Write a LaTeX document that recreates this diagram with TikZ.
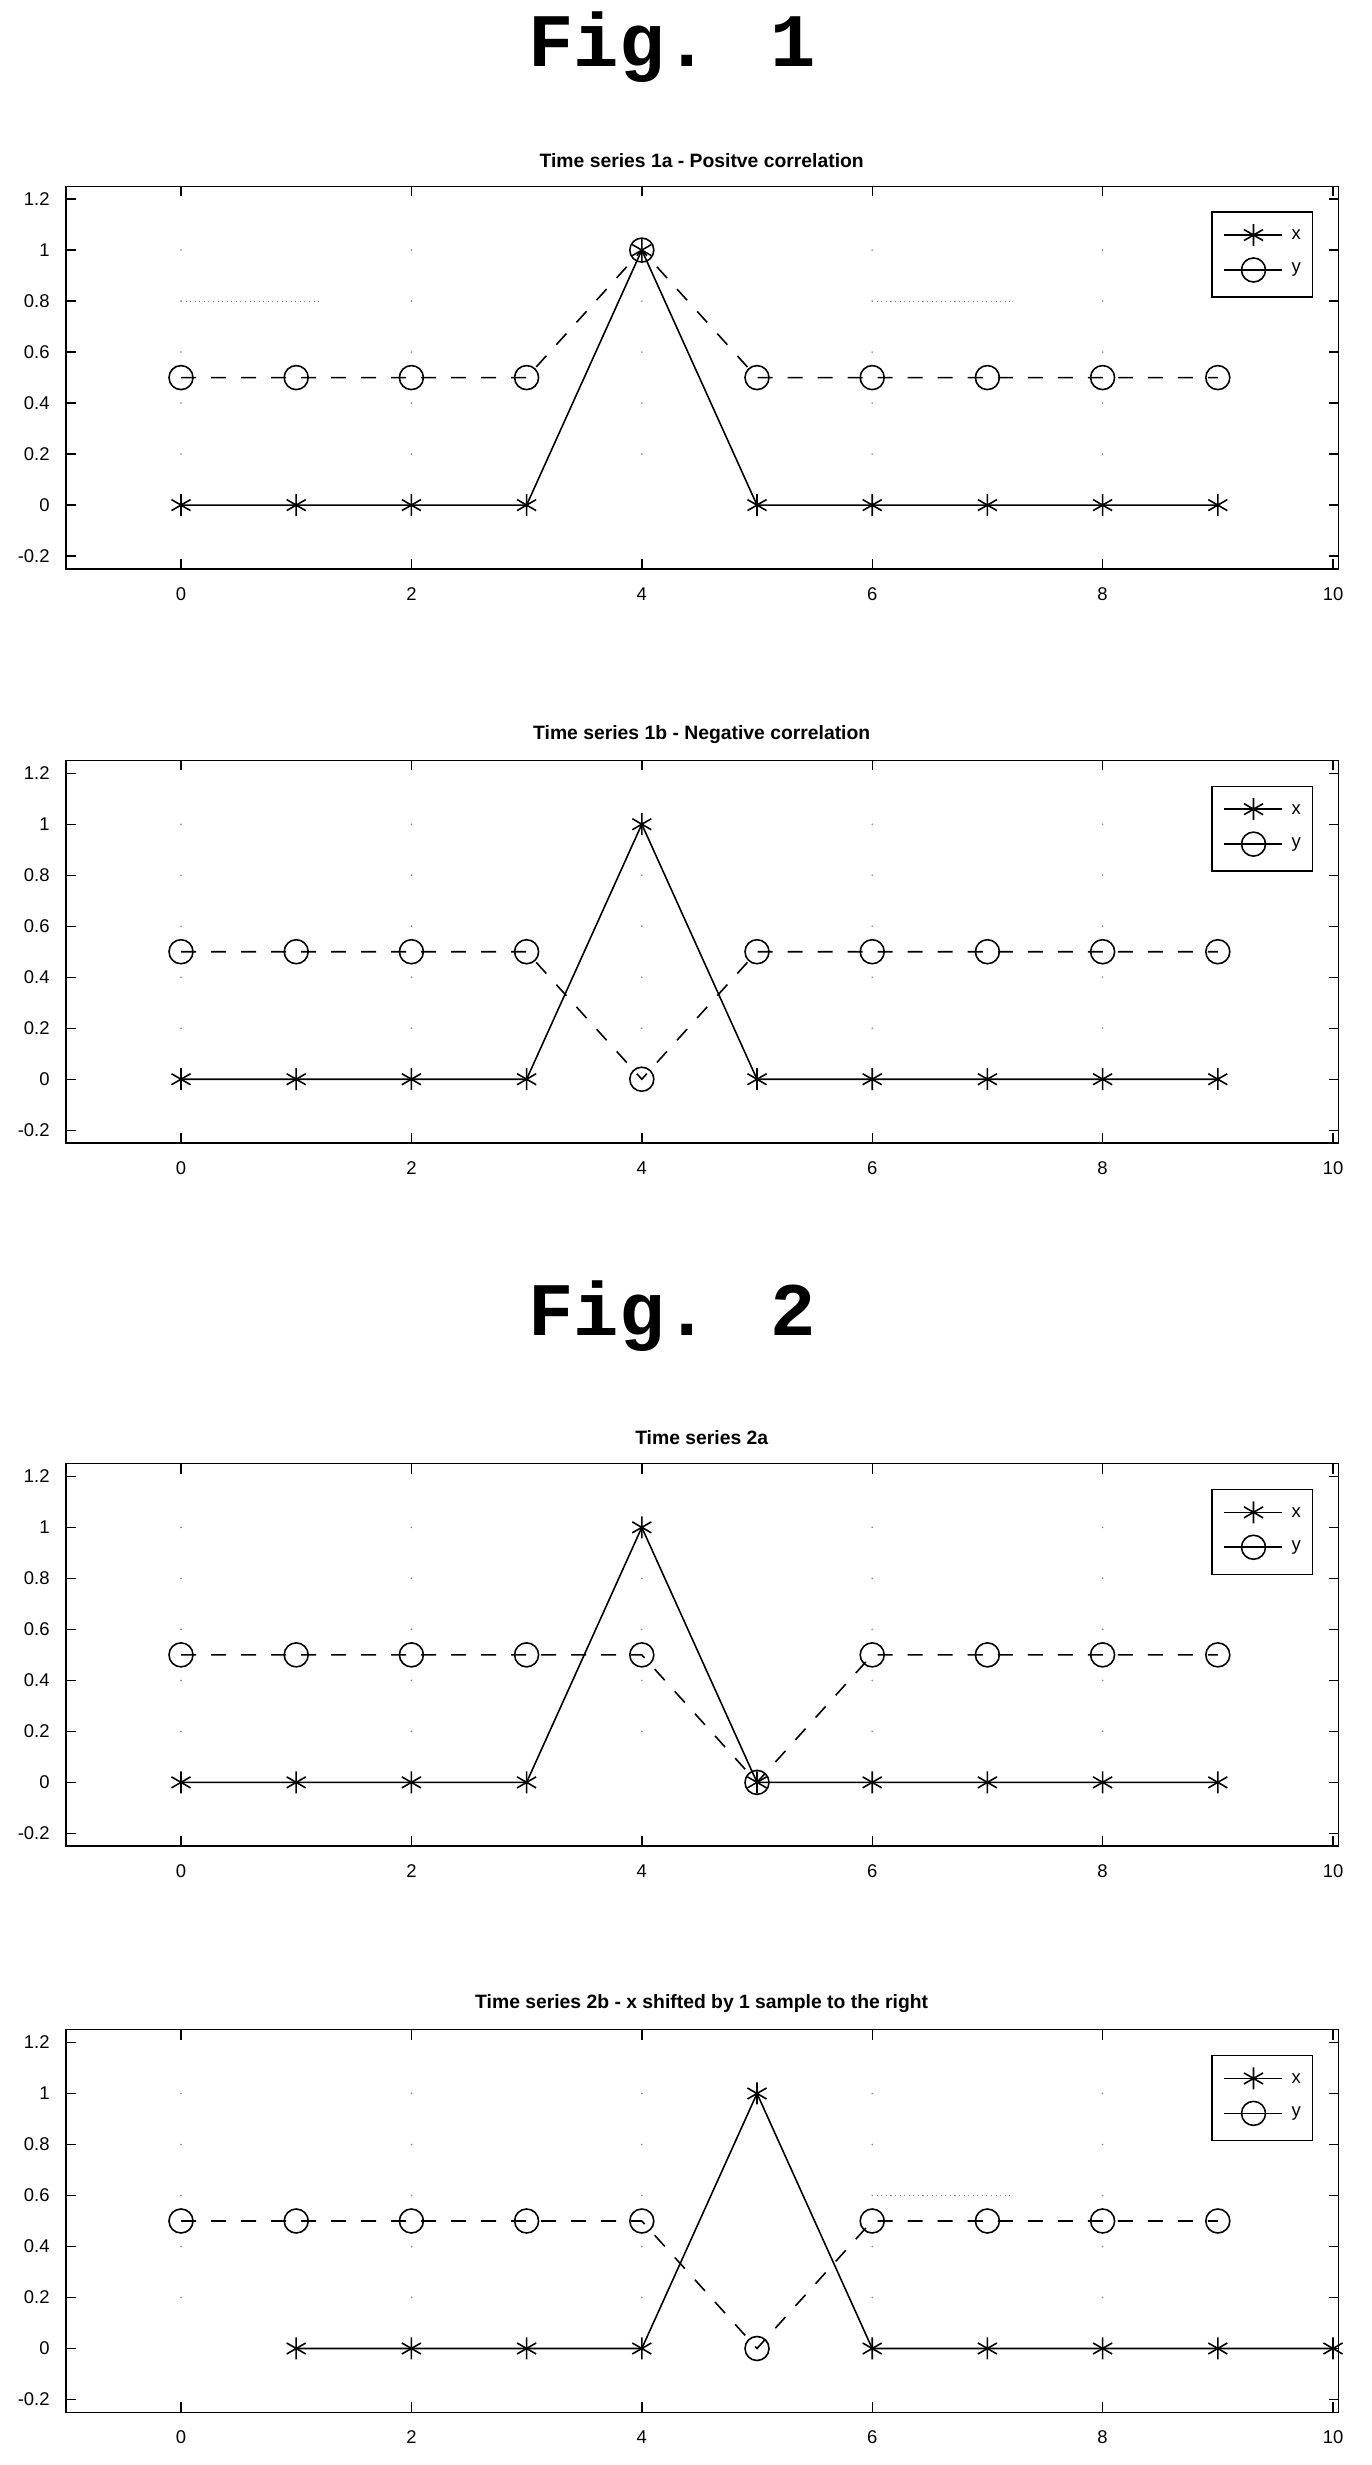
\documentclass[tikz,border=0pt]{standalone}
\usepackage{fontspec}
\usetikzlibrary{plotmarks}
\setmainfont{Liberation Sans}
\newfontfamily\figfont{Liberation Mono}
\tikzset{
  frame/.style={line width=0.8pt},
  xline/.style={line width=0.9pt, mark=asterisk, mark size=0.22cm, mark options={solid,line width=0.9pt}},
  yline/.style={line width=0.9pt, dash pattern=on 0.3cm off 0.3cm, mark=o, mark size=0.24cm, mark options={solid,line width=0.9pt}},
  ticklab/.style={font=\fontsize{10.5}{12}\selectfont},
  ptitle/.style={font=\bfseries\fontsize{11}{13}\selectfont},
  figtitle/.style={font=\figfont\bfseries\fontsize{43}{48}\selectfont},
  stray/.style={gray, dotted, line width=0.6pt}
}
\newcommand\tsplot[6]{%
\begin{scope}[shift={(3.62cm,-#1*0.02cm)},x=2.304cm,y=5.1cm]
  \draw[frame] (-1,-0.25) rectangle (10.05,1.25);
  \foreach \gx in {0,2,...,8} \foreach \gy in {0.2,0.4,...,1.01} \fill[gray] (\gx,\gy) circle (0.5pt);
  \foreach \tx in {0,2,...,10} {
    \draw[frame] (\tx,-0.25) -- ++(0,0.2cm);
    \draw[frame] (\tx,1.25) -- ++(0,-0.2cm);
    \node[ticklab] (xl#6\tx) at (\tx,-0.25) [yshift=-0.5cm] {\tx};
  }
  \foreach \ty/\tl in {-0.2/-0.2,0/0,0.2/0.2,0.4/0.4,0.6/0.6,0.8/0.8,1/1,1.2/1.2} {
    \draw[frame] (-1,\ty) -- ++(0.2cm,0);
    \draw[frame] (10.05,\ty) -- ++(-0.2cm,0);
    \node[ticklab,anchor=east] (yl#6) at (-1,\ty) [xshift=-0.2cm] {\tl};
  }
  \node[ptitle] (title#6) at (4.52,1.25) [yshift=0.52cm] {#2};
  #5
  \draw[xline] plot coordinates {#3};
  \draw[yline] plot coordinates {#4};
  \draw[frame] (8.95,0.816) rectangle (9.82,1.149);
  \draw[line width=0.9pt] (9.05,1.059) -- (9.56,1.059);
  \draw[xline] plot coordinates {(9.31,1.059)};
  \draw[line width=0.9pt] (9.05,0.922) -- (9.56,0.922);
  \draw[line width=0.9pt] (9.31,0.922) circle (0.24cm);
  \node[ticklab] (lx#6) at (9.68,1.059) {x};
  \node[ticklab] (ly#6) at (9.68,0.922) {y};
\end{scope}}
\begin{document}
\begin{tikzpicture}
\useasboundingbox (0,0) rectangle (27.42,-49.3);
\node[figtitle] (fig1) at (13.44,-0.94) {Fig. 1};
\node[figtitle] (fig2) at (13.44,-26.32) {Fig. 2};
\tsplot{505}{Time series 1a - Positve correlation}
 {(0,0)(1,0)(2,0)(3,0)(4,1)(5,0)(6,0)(7,0)(8,0)(9,0)}
 {(0,.5)(1,.5)(2,.5)(3,.5)(4,1)(5,.5)(6,.5)(7,.5)(8,.5)(9,.5)}
 {\draw[stray] (0,0.8) -- (1.2,0.8); \draw[stray] (6,0.8) -- (7.2,0.8);}{a}
\tsplot{1079}{Time series 1b - Negative correlation}
 {(0,0)(1,0)(2,0)(3,0)(4,1)(5,0)(6,0)(7,0)(8,0)(9,0)}
 {(0,.5)(1,.5)(2,.5)(3,.5)(4,0)(5,.5)(6,.5)(7,.5)(8,.5)(9,.5)}
 {}{b}
\tsplot{1782}{Time series 2a}
 {(0,0)(1,0)(2,0)(3,0)(4,1)(5,0)(6,0)(7,0)(8,0)(9,0)}
 {(0,.5)(1,.5)(2,.5)(3,.5)(4,.5)(5,0)(6,.5)(7,.5)(8,.5)(9,.5)}
 {}{c}
\tsplot{2348}{Time series 2b - x shifted by 1 sample to the right}
 {(1,0)(2,0)(3,0)(4,0)(5,1)(6,0)(7,0)(8,0)(9,0)(10,0)}
 {(0,.5)(1,.5)(2,.5)(3,.5)(4,.5)(5,0)(6,.5)(7,.5)(8,.5)(9,.5)}
 {\draw[stray] (6,0.6) -- (7.2,0.6);}{d}
\end{tikzpicture}
\end{document}
